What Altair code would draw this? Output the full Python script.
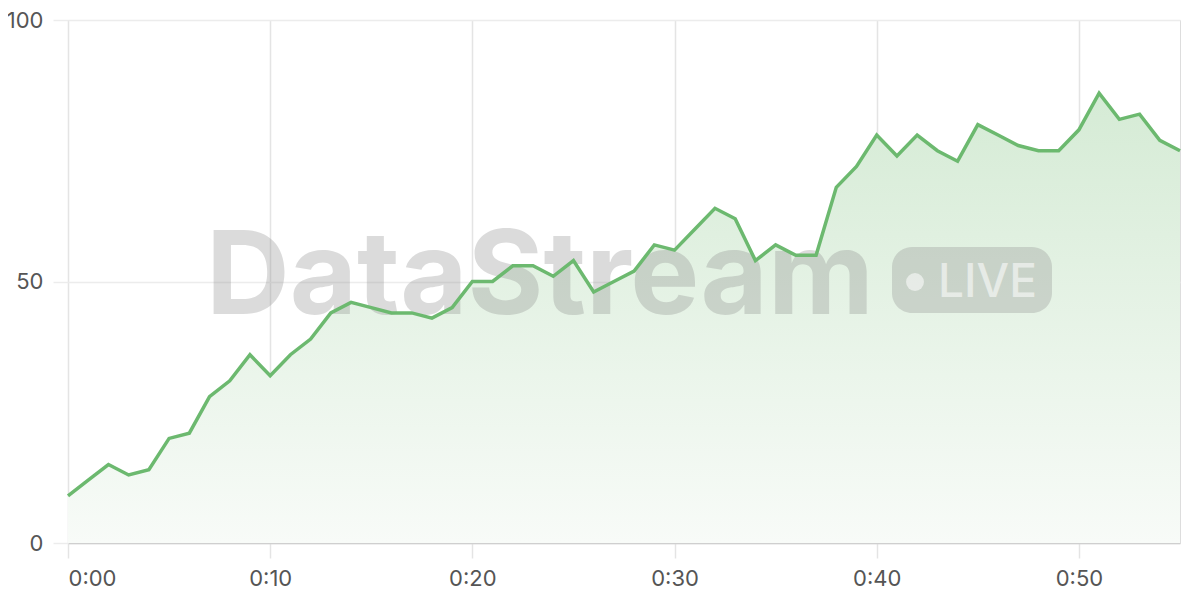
import altair as alt
import pandas as pd

minutes = list(range(0, 56))
values = [9, 12, 15, 13, 14, 20, 21, 28, 31, 36,
          32, 36, 39, 44, 46, 45, 44, 44, 43, 45,
          50, 50, 53, 53, 51, 54, 48, 50, 52, 57,
          56, 60, 64, 62, 54, 57, 55, 55, 68, 72,
          78, 74, 78, 75, 73, 80, 78, 76, 75, 75,
          79, 86, 81, 82, 77, 75]
x_ticks = [0, 10, 20, 30, 40, 50]
y_ticks = [0, 50, 100]
brand = "DataStream"
badge = "LIVE"

df = pd.DataFrame({"minute": minutes, "value": values})
one = pd.DataFrame({"k": [0]})

FONT = "Inter"
LINE = "#6cb96f"

x_enc = alt.X("minute:Q",
              scale=alt.Scale(domain=[0, 55], nice=False, zero=False),
              axis=alt.Axis(values=x_ticks, title=None,
                            labelExpr="'0:' + (datum.value < 10 ? '0' : '') + datum.value",
                            grid=True, gridColor="#e4e4e4", gridWidth=1.5,
                            domain=True, domainColor="#cfcfcf", domainWidth=1.5,
                            ticks=True, tickColor="#e4e4e4", tickSize=15, tickWidth=1.5,
                            labelPadding=10, labelFontSize=22, labelColor="#555555",
                            labelFont=FONT))
y_enc = alt.Y("value:Q",
              scale=alt.Scale(domain=[0, 100], nice=False),
              axis=alt.Axis(values=y_ticks, title=None,
                            grid=True, gridColor="#ececec", gridWidth=1.5,
                            domain=False,
                            ticks=True, tickColor="#ececec", tickSize=15, tickWidth=1.5,
                            labelPadding=10, labelFontSize=22, labelColor="#555555",
                            labelFont=FONT))

area = alt.Chart(df).mark_area(
    color=alt.Gradient(
        gradient="linear",
        stops=[alt.GradientStop(color="#d5ebd5", offset=0),
               alt.GradientStop(color="#f8fbf8", offset=1)],
        x1=1, x2=1, y1=0, y2=1),
    interpolate="linear",
).encode(x=x_enc, y=y_enc)

wm = alt.Chart(one).mark_text(
    text=brand, font=FONT, fontWeight=700, fontSize=116, align="left",
    baseline="alphabetic", color="#8a8a8a", opacity=0.3,
).encode(x=alt.value(138), y=alt.value(294))

badge_rect = alt.Chart(one).mark_rect(
    color="#8a8a8a", opacity=0.3, cornerRadius=20,
).encode(x=alt.value(824), x2=alt.value(984), y=alt.value(227), y2=alt.value(293))

badge_dot = alt.Chart(one).mark_circle(
    color="#ffffff", opacity=0.55, size=320,
).encode(x=alt.value(847), y=alt.value(262))

badge_text = alt.Chart(one).mark_text(
    text=badge, font=FONT, fontWeight=500, fontSize=46, align="left",
    baseline="alphabetic", color="#ffffff", opacity=0.55,
).encode(x=alt.value(870), y=alt.value(277))

line = alt.Chart(df).mark_line(
    color=LINE, strokeWidth=3.5, interpolate="linear",
).encode(x="minute:Q", y="value:Q")

chart = alt.layer(area, wm, badge_rect, badge_dot, badge_text, line).properties(
    width=1112, height=523,
    autosize=alt.AutoSizeParams(type="none"),
    padding={"left": 60, "top": 12, "right": 10, "bottom": 55},
).configure_view(stroke=None).configure(background="#ffffff")

chart.save("out.html", embed_options={"renderer": "svg", "actions": False})
